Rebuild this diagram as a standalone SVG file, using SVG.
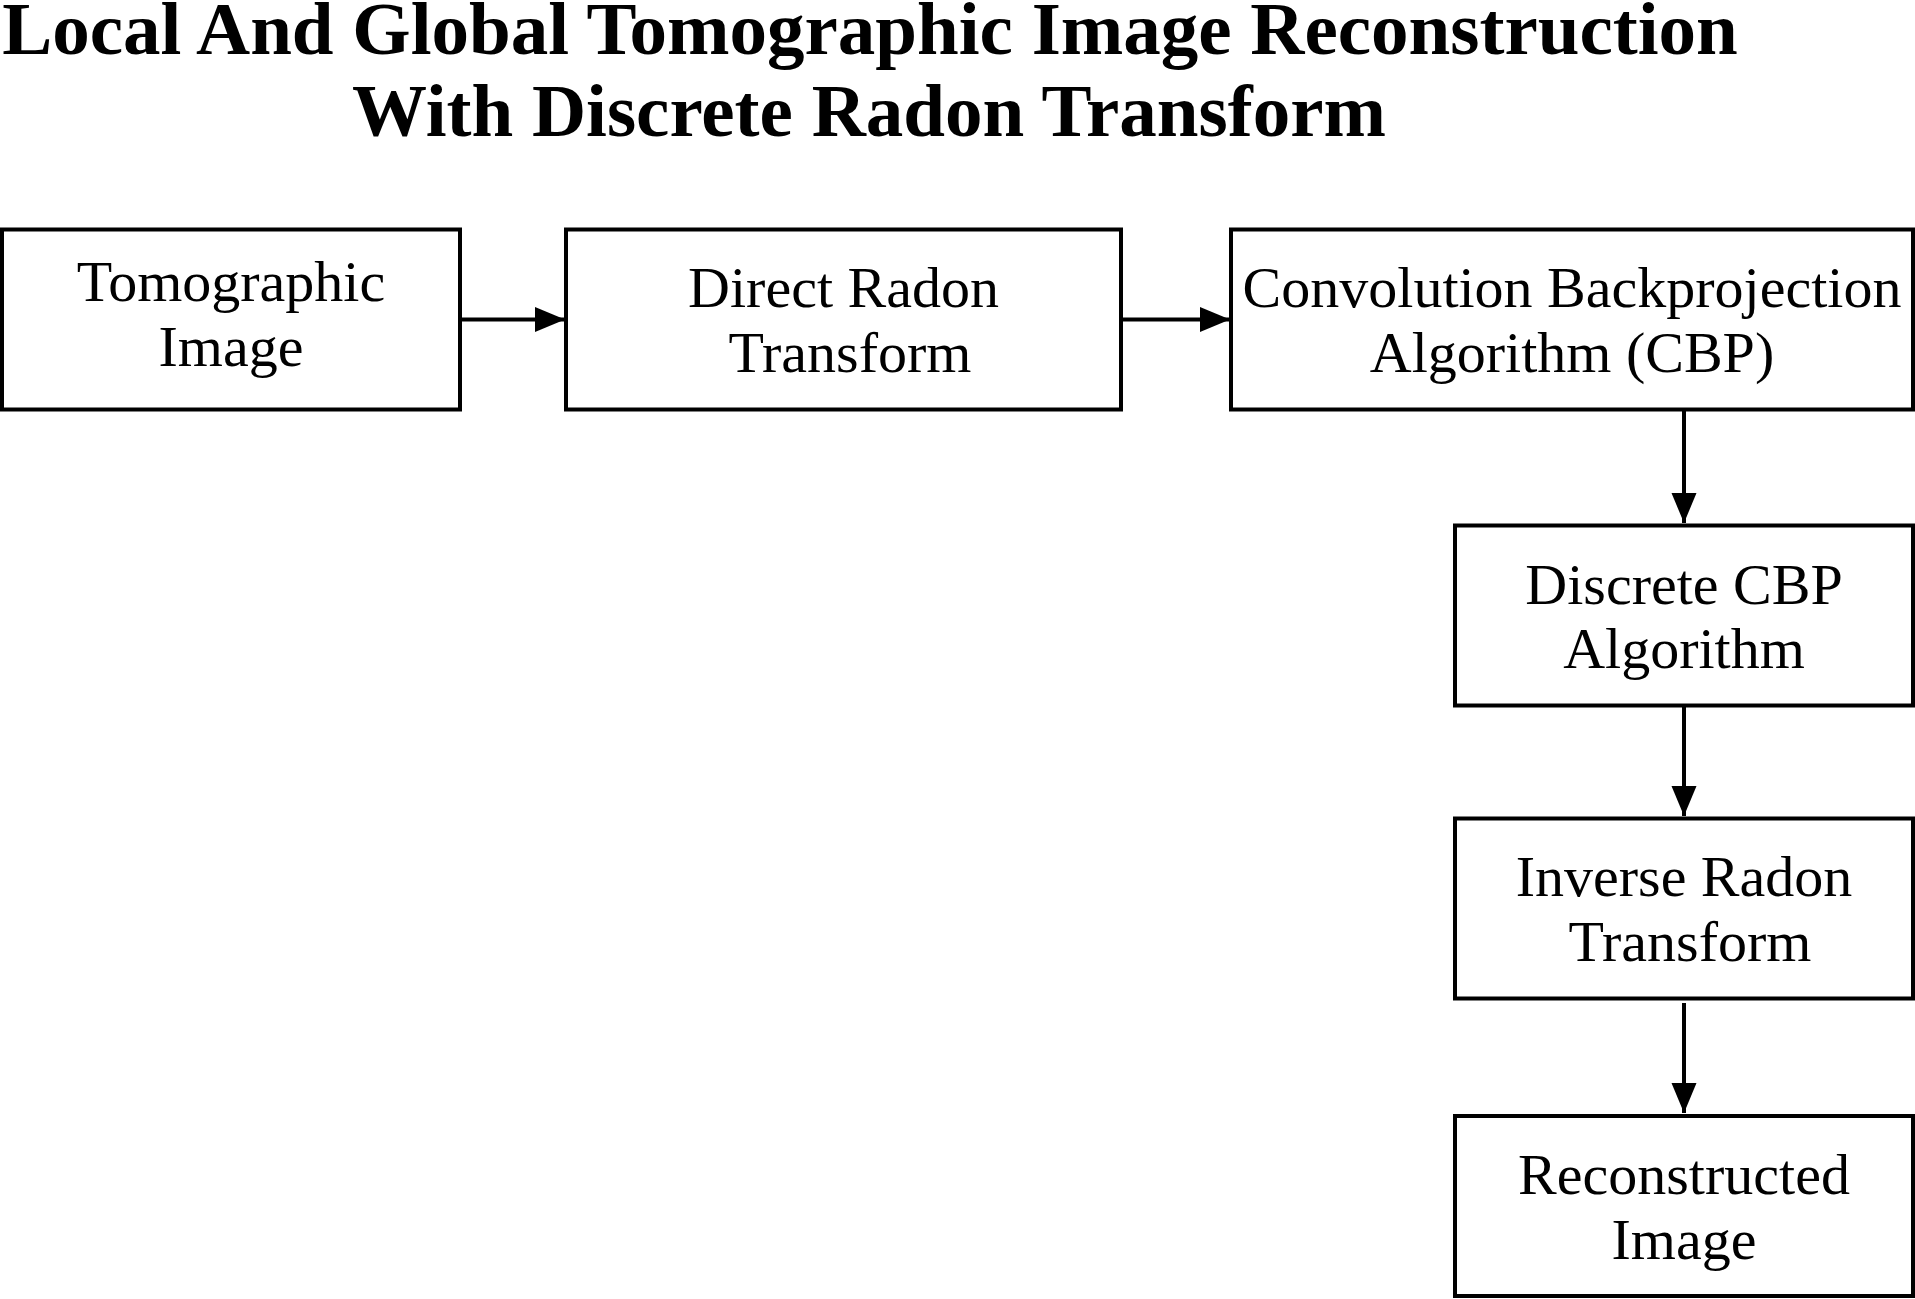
<svg xmlns="http://www.w3.org/2000/svg" width="1915" height="1299" viewBox="0 0 1915 1299">
<style>
.title{font-family:"Liberation Serif","Times New Roman",serif;font-weight:bold;font-size:75px;fill:#000;text-anchor:middle}
.box{fill:#fff;stroke:#000;stroke-width:4}
.lbl{font-family:"Liberation Serif","Times New Roman",serif;font-size:58px;fill:#000;text-anchor:middle}
.edge{stroke:#000;stroke-width:4;fill:none}
</style>
<defs>
<marker id="arr" markerUnits="userSpaceOnUse" markerWidth="31" markerHeight="26" refX="30" refY="12.5" orient="auto">
<path d="M0,0 L30,12.5 L0,25 Z" fill="#000"/>
</marker>
</defs>
<rect width="1915" height="1299" fill="#fff"/>
<g id="title">
<text class="title" x="870" y="54">Local And Global Tomographic Image Reconstruction</text>
<text class="title" x="869" y="136">With Discrete Radon Transform</text>
</g>
<g id="connectors">
<line class="edge" x1="460" y1="319.5" x2="565" y2="319.5" marker-end="url(#arr)"/>
<line class="edge" x1="1121" y1="319.5" x2="1230" y2="319.5" marker-end="url(#arr)"/>
<line class="edge" x1="1684" y1="409.5" x2="1684" y2="523" marker-end="url(#arr)"/>
<line class="edge" x1="1684" y1="705.5" x2="1684" y2="816" marker-end="url(#arr)"/>
<line class="edge" x1="1684" y1="1003" x2="1684" y2="1113" marker-end="url(#arr)"/>
</g>
<g id="node-tomographic-image">
<rect class="box" x="2" y="229.5" width="458" height="180"/>
<text class="lbl" x="231" y="301">Tomographic</text>
<text class="lbl" x="231" y="366">Image</text>
</g>
<g id="node-direct-radon">
<rect class="box" x="566" y="229.5" width="555" height="180"/>
<text class="lbl" x="843.5" y="307">Direct Radon</text>
<text class="lbl" x="850" y="371.5">Transform</text>
</g>
<g id="node-cbp">
<rect class="box" x="1231" y="229.5" width="682" height="180"/>
<text class="lbl" x="1572" y="307">Convolution Backprojection</text>
<text class="lbl" x="1572" y="371.5">Algorithm (CBP)</text>
</g>
<g id="node-discrete-cbp">
<rect class="box" x="1455" y="525.5" width="458" height="180"/>
<text class="lbl" x="1684" y="603.5">Discrete CBP</text>
<text class="lbl" x="1684" y="668">Algorithm</text>
</g>
<g id="node-inverse-radon">
<rect class="box" x="1455" y="818.5" width="458" height="180"/>
<text class="lbl" x="1684" y="896">Inverse Radon</text>
<text class="lbl" x="1690" y="960.5">Transform</text>
</g>
<g id="node-reconstructed">
<rect class="box" x="1455" y="1116" width="458" height="180"/>
<text class="lbl" x="1684" y="1194">Reconstructed</text>
<text class="lbl" x="1684" y="1258.5">Image</text>
</g>
</svg>
